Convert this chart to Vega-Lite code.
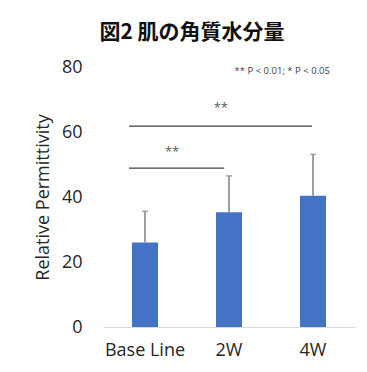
{
  "$schema": "https://vega.github.io/schema/vega-lite/v6.json",
  "autosize": "none",
  "width": 252,
  "height": 260,
  "padding": {"left": 103, "top": 67, "right": 12, "bottom": 45},
  "background": "white",
  "config": {
    "view": {"stroke": null},
    "font": "Open Sans",
    "axis": {"labelFont": "Open Sans", "titleFont": "Open Sans"},
    "text": {"font": "Open Sans"}
  },
  "title": {
    "text": "図2 肌の角質水分量",
    "font": "Noto Sans CJK JP",
    "fontSize": 21,
    "fontWeight": "bold",
    "color": "#111111",
    "anchor": "middle",
    "dx": -37,
    "offset": 15
  },
  "datasets": {
    "moisture": [
      {"period": "Base Line", "mean": 26.0, "upper": 35.6},
      {"period": "2W", "mean": 35.3, "upper": 46.5},
      {"period": "4W", "mean": 40.4, "upper": 53.1}
    ],
    "brackets": [
      {"from": "Base Line", "to": "4W", "level": 61.8, "mark_y": 67.3, "stars": "**"},
      {"from": "Base Line", "to": "2W", "level": 48.9, "mark_y": 53.8, "stars": "**"}
    ],
    "note": [
      {"period": "4W", "y": 78.8, "label": "** P < 0.01; * P < 0.05"}
    ]
  },
  "layer": [
    {
      "data": {"name": "moisture"},
      "mark": {"type": "bar", "color": "#4472C4"},
      "encoding": {
        "x": {
          "field": "period",
          "type": "nominal",
          "title": null,
          "scale": {"domain": ["Base Line", "2W", "4W"], "paddingInner": 0.69, "paddingOuter": 0.345},
          "axis": {
            "labelAngle": 0,
            "ticks": false,
            "tickSize": 0,
            "domainColor": "#d9d9d9",
            "domainWidth": 1,
            "labelFontSize": 18,
            "labelColor": "#262626",
            "labelPadding": 14
          }
        },
        "y": {
          "field": "mean",
          "type": "quantitative",
          "title": "Relative Permittivity",
          "scale": {"domain": [0, 80], "nice": false},
          "axis": {
            "values": [0, 20, 40, 60, 80],
            "grid": false,
            "domain": false,
            "ticks": false,
            "tickSize": 0,
            "labelPadding": 21,
            "labelFontSize": 18,
            "labelColor": "#262626",
            "titleFontSize": 18,
            "titleFontWeight": "normal",
            "titleColor": "#262626",
            "titlePadding": 9
          }
        }
      }
    },
    {
      "data": {"name": "moisture"},
      "mark": {"type": "rule", "color": "#808080", "strokeWidth": 1.5},
      "encoding": {
        "x": {"field": "period", "type": "nominal", "title": null},
        "y": {"field": "mean", "type": "quantitative", "title": "Relative Permittivity"},
        "y2": {"field": "upper"}
      }
    },
    {
      "data": {"name": "moisture"},
      "mark": {"type": "tick", "color": "#808080", "size": 6, "thickness": 1.5},
      "encoding": {
        "x": {"field": "period", "type": "nominal", "title": null},
        "y": {"field": "upper", "type": "quantitative", "title": "Relative Permittivity"}
      }
    },
    {
      "data": {"name": "brackets"},
      "transform": [{"filter": "datum.to === '4W'"}],
      "mark": {"type": "rule", "color": "#404040", "strokeWidth": 1.3},
      "encoding": {
        "x": {"field": "from", "type": "nominal", "title": null, "bandPosition": -0.115},
        "x2": {"field": "to", "bandPosition": 0.46},
        "y": {"field": "level", "type": "quantitative", "title": "Relative Permittivity"}
      }
    },
    {
      "data": {"name": "brackets"},
      "transform": [{"filter": "datum.to === '2W'"}],
      "mark": {"type": "rule", "color": "#404040", "strokeWidth": 1.3},
      "encoding": {
        "x": {"field": "from", "type": "nominal", "title": null, "bandPosition": -0.115},
        "x2": {"field": "to", "bandPosition": 0.31},
        "y": {"field": "level", "type": "quantitative", "title": "Relative Permittivity"}
      }
    },
    {
      "data": {"name": "brackets"},
      "transform": [{"filter": "datum.to === '4W'"}],
      "mark": {"type": "text", "fontSize": 13, "color": "#595959", "baseline": "middle", "align": "center"},
      "encoding": {
        "x": {"field": "to", "type": "nominal", "title": null, "bandPosition": -3.04},
        "y": {"field": "mark_y", "type": "quantitative", "title": "Relative Permittivity"},
        "text": {"field": "stars"}
      }
    },
    {
      "data": {"name": "brackets"},
      "transform": [{"filter": "datum.to === '2W'"}],
      "mark": {"type": "text", "fontSize": 13, "color": "#595959", "baseline": "middle", "align": "center"},
      "encoding": {
        "x": {"field": "from", "type": "nominal", "title": null, "bandPosition": 1.54},
        "y": {"field": "mark_y", "type": "quantitative", "title": "Relative Permittivity"},
        "text": {"field": "stars"}
      }
    },
    {
      "data": {"name": "note"},
      "mark": {"type": "text", "fontSize": 9.5, "color": "#404040", "baseline": "middle", "align": "right"},
      "encoding": {
        "x": {"field": "period", "type": "nominal", "title": null, "bandPosition": 1.15},
        "y": {"field": "y", "type": "quantitative", "title": "Relative Permittivity"},
        "text": {"field": "label"}
      }
    }
  ]
}
